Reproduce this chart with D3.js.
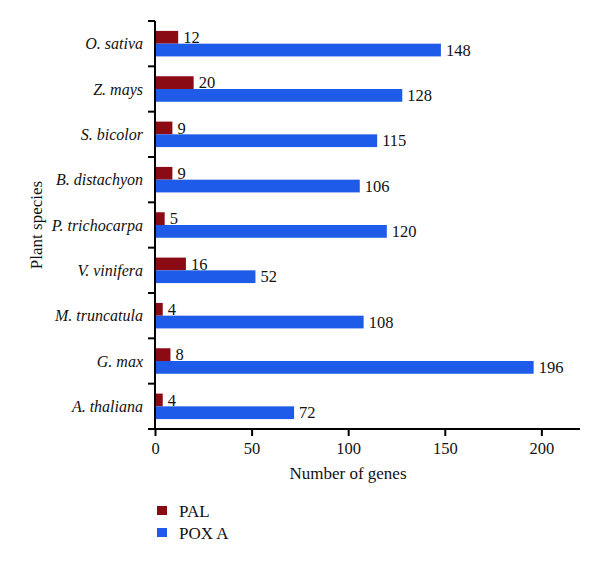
<!DOCTYPE html>
<html><head><meta charset="utf-8">
<script src="https://cdn.jsdelivr.net/npm/d3@7"></script>
<style>body{margin:0;background:#fff}svg{display:block}text{font-family:"Liberation Serif","Times New Roman",serif;fill:#111}</style>
</head><body>
<script>
const species = ["O. sativa","Z. mays","S. bicolor","B. distachyon","P. trichocarpa","V. vinifera","M. truncatula","G. max","A. thaliana"];
const pal = [12,20,9,9,5,16,4,8,4];
const poxA = [148,128,115,106,120,52,108,196,72];
const seriesNames = ["PAL","POX A"];
const seriesColors = ["#8a0b14","#1f5be9"];
const xTicks = [0,50,100,150,200];

const W=600,H=564;
const svg=d3.select("body").append("svg").attr("width",W).attr("height",H);
const mLeft=155,mTop=21,mBottom=429,mRight=580;
const x=d3.scaleLinear().domain([0,220]).range([mLeft,mRight]);
const y=d3.scaleBand().domain(species).range([mTop,mBottom]);
const sub=d3.scaleBand().domain(seriesNames).range([0,25.5]);
const off=(y.bandwidth()-25.5)/2;

const data=species.map((s,i)=>({s,vals:[pal[i],poxA[i]]}));
const g=svg.append("g");
data.forEach(d=>{
  d.vals.forEach((v,j)=>{
    const yy=y(d.s)+off+sub(seriesNames[j]);
    g.append("rect").attr("x",x(0)).attr("y",yy).attr("width",x(v)-x(0)).attr("height",sub.bandwidth()).attr("fill",seriesColors[j]);
    g.append("text").attr("x",x(v)+5).attr("y",yy+sub.bandwidth()/2).attr("dy","0.35em").attr("font-size",16.5).text(v);
  });
});

// y axis
const ya=svg.append("g");
ya.append("line").attr("x1",mLeft).attr("x2",mLeft).attr("y1",mTop).attr("y2",mBottom).attr("stroke","#000").attr("stroke-width",2);
const bounds=species.map(s=>y(s)).concat([mBottom]);
bounds.forEach(b=>ya.append("line").attr("x1",mLeft-7).attr("x2",mLeft).attr("y1",b).attr("y2",b).attr("stroke","#000").attr("stroke-width",2));
species.forEach(s=>ya.append("text").attr("x",mLeft-12).attr("y",y(s)+y.bandwidth()/2).attr("dy","0.35em").attr("text-anchor","end").attr("font-style","italic").attr("font-size",16).text(s));

// x axis
const xa=svg.append("g").attr("transform",`translate(0,${mBottom})`)
  .call(d3.axisBottom(x).tickValues(xTicks).tickSize(7).tickPadding(6).tickFormat(d3.format("d")));
xa.select(".domain").attr("d",`M${mLeft-4},0H${mRight}`).attr("stroke-width",2);
xa.selectAll(".tick line").attr("stroke-width",2);
xa.selectAll(".tick text").attr("font-size",16.5).attr("fill","#111");

svg.append("text").attr("x",348).attr("y",479).attr("text-anchor","middle").attr("font-size",17).text("Number of genes");
svg.append("text").attr("transform",`translate(42,${(mTop+mBottom)/2}) rotate(-90)`).attr("text-anchor","middle").attr("font-size",17).text("Plant species");

// legend
seriesNames.forEach((n,i)=>{
  const ly=511+i*22;
  svg.append("rect").attr("x",157).attr("y",ly-5).attr("width",10).attr("height",9).attr("fill",seriesColors[i]);
  svg.append("text").attr("x",179).attr("y",ly).attr("dy","0.35em").attr("font-size",17).text(n);
});
</script>
</body></html>
